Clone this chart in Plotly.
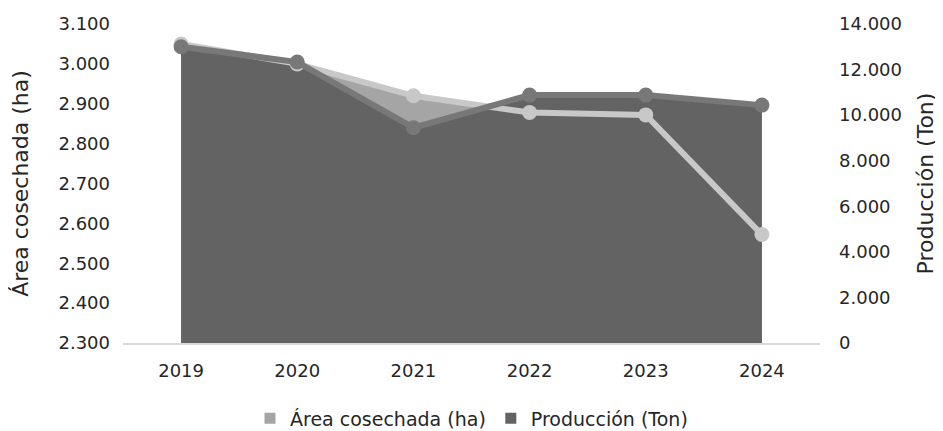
import plotly.graph_objects as go

years = ["2019", "2020", "2021", "2022", "2023", "2024"]
area_ha = [3050, 3000, 2920, 2878, 2872, 2572]
produccion_ton = [13000, 12330, 9450, 10880, 10880, 10440]

AREA_FILL = "#a5a5a5"
AREA_LINE = "#c8c8c8"
PROD_FILL = "#636363"
PROD_LINE = "#787878"
FONT = "DejaVu Sans"

fig = go.Figure()

# fills first, lines on later overlay axes so they sit on top
fig.add_trace(go.Scatter(x=years, y=area_ha, mode="none", fill="tozeroy",
                         fillcolor=AREA_FILL, showlegend=False, hoverinfo="skip",
                         yaxis="y"))
fig.add_trace(go.Scatter(x=years, y=produccion_ton, mode="none", fill="tozeroy",
                         fillcolor=PROD_FILL, showlegend=False, hoverinfo="skip",
                         yaxis="y2"))
fig.add_trace(go.Scatter(x=years, y=area_ha, mode="lines+markers",
                         line=dict(color=AREA_LINE, width=6),
                         marker=dict(color=AREA_LINE, size=15),
                         showlegend=False, yaxis="y3"))
fig.add_trace(go.Scatter(x=years, y=produccion_ton, mode="lines+markers",
                         line=dict(color=PROD_LINE, width=6),
                         marker=dict(color=PROD_LINE, size=15),
                         showlegend=False, yaxis="y4"))

# legend swatches
fig.add_trace(go.Scatter(x=[None], y=[None], mode="markers", name="Área cosechada (ha)",
                         marker=dict(symbol="square", size=11, color=AREA_FILL)))
fig.add_trace(go.Scatter(x=[None], y=[None], mode="markers", name="Producción (Ton)",
                         marker=dict(symbol="square", size=11, color=PROD_FILL)))

left_range = [2300, 3100]
right_range = [0, 14000]

# page body has an 8px margin, so the figure is 8px smaller and shifted
fig.update_layout(
    width=935, height=423,
    margin=dict(l=115, r=123, t=16, b=88),
    paper_bgcolor="white", plot_bgcolor="white",
    separators=",.",
    font=dict(family=FONT, size=18, color="#262626"),
    xaxis=dict(type="category", range=[-0.5, 5.5], showgrid=False,
               showline=True, linecolor="#d9d9d9", linewidth=2,
               ticks="", ticklabelstandoff=10, automargin=False),
    yaxis=dict(range=left_range, dtick=100, tickformat=",d", showgrid=False,
               zeroline=False, ticks="", ticklabelstandoff=12, automargin=False,
               title=dict(text="Área cosechada (ha)", standoff=24)),
    yaxis2=dict(range=right_range, dtick=2000, tickformat=",d", showgrid=False,
                zeroline=False, overlaying="y", side="right", ticks="",
                ticklabelstandoff=18, automargin=False,
                title=dict(text="Producción (Ton)", standoff=16)),
    yaxis3=dict(range=left_range, overlaying="y", visible=False),
    yaxis4=dict(range=right_range, overlaying="y", visible=False),
    legend=dict(orientation="h", x=0.5, xanchor="center", yref="container",
                y=0.03, yanchor="middle", font=dict(size=19), itemwidth=30,
                traceorder="normal"),
)

fig.write_html("out.html")
